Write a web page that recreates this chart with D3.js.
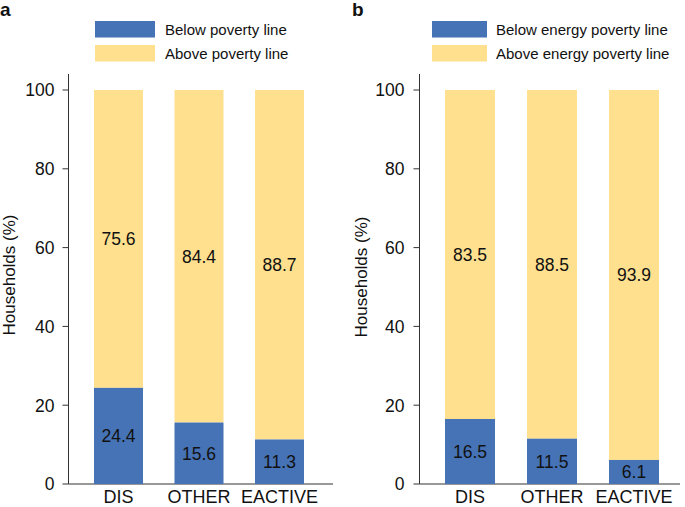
<!DOCTYPE html>
<html>
<head>
<meta charset="utf-8">
<script src="https://cdn.jsdelivr.net/npm/d3@7"></script>
<style>
  html, body { margin: 0; padding: 0; background: #fff; }
  svg { display: block; font-family: "Liberation Sans", Arial, Helvetica, sans-serif; }
</style>
</head>
<body>
<svg id="chart" width="685" height="507"></svg>
<script>
// ---- data ----
const categories = ["DIS", "OTHER", "EACTIVE"];
const belowPoverty = [24.4, 15.6, 11.3];
const abovePoverty = [75.6, 84.4, 88.7];
const belowEnergy = [16.5, 11.5, 6.1];
const aboveEnergy = [83.5, 88.5, 93.9];
const yTicks = [0, 20, 40, 60, 80, 100];
const legendA = ["Below poverty line", "Above poverty line"];
const legendB = ["Below energy poverty line", "Above energy poverty line"];
const panelLetters = ["a", "b"];
const yAxisTitle = "Households (%)";

const BLUE = "#4673b6";
const YELLOW = "#fee08f";
const AXIS = "#333";

const svg = d3.select("#chart");

function panel(opts) {
  const g = svg.append("g");
  const y = d3.scaleLinear().domain([0, 100]).range([484, 90]);
  const x = d3.scaleBand().domain(categories).range([opts.x0, opts.x1]).padding(0);
  const bw = opts.barW;

  // axes lines
  g.append("line").attr("x1", opts.axisX).attr("x2", opts.axisX)
    .attr("y1", 74).attr("y2", y(0)).attr("stroke", AXIS).attr("stroke-width", 1);
  g.append("line").attr("x1", opts.axisX).attr("x2", opts.axisEnd)
    .attr("y1", y(0)).attr("y2", y(0)).attr("stroke", AXIS).attr("stroke-width", 1);

  // y ticks
  const yt = g.append("g");
  yTicks.forEach(t => {
    yt.append("line").attr("x1", opts.axisX - 6).attr("x2", opts.axisX)
      .attr("y1", y(t)).attr("y2", y(t)).attr("stroke", AXIS);
    yt.append("text").attr("x", opts.axisX - opts.labGap).attr("y", y(t))
      .attr("dy", "0.36em").attr("text-anchor", "end")
      .attr("font-size", 17.5).attr("fill", "#111").text(t);
  });

  // bars
  categories.forEach((c, i) => {
    const cx = x(c) + x.bandwidth() / 2;
    const lo = opts.below[i], hi = opts.above[i];
    g.append("rect").attr("x", cx - bw / 2).attr("width", bw)
      .attr("y", y(lo + hi)).attr("height", y(lo) - y(lo + hi)).attr("fill", YELLOW);
    g.append("rect").attr("x", cx - bw / 2).attr("width", bw)
      .attr("y", y(lo)).attr("height", y(0) - y(lo)).attr("fill", BLUE);
    g.append("text").attr("x", cx).attr("y", y(lo / 2)).attr("dy", "0.36em")
      .attr("text-anchor", "middle").attr("font-size", 17.5).attr("fill", "#111")
      .text(lo.toFixed(1));
    g.append("text").attr("x", cx).attr("y", y(lo + hi / 2)).attr("dy", "0.36em")
      .attr("text-anchor", "middle").attr("font-size", 17.5).attr("fill", "#111")
      .text(hi.toFixed(1));
    g.append("text").attr("x", cx).attr("y", 503)
      .attr("text-anchor", "middle").attr("font-size", 18).attr("fill", "#111")
      .text(c);
  });

  // y title
  g.append("text")
    .attr("transform", `translate(${opts.titleX},${opts.titleY}) rotate(-90)`)
    .attr("text-anchor", "middle").attr("font-size", 17).attr("fill", "#111")
    .text(yAxisTitle);

  // legend
  const colors = [BLUE, YELLOW];
  opts.legend.forEach((t, i) => {
    g.append("rect").attr("x", opts.legX).attr("y", 21 + i * 24)
      .attr("width", opts.legW).attr("height", 16.5).attr("fill", colors[i]);
    g.append("text").attr("x", opts.legTextX).attr("y", 34.5 + i * 24)
      .attr("font-size", 15).attr("fill", "#111").text(t);
  });

  // panel letter
  g.append("text").attr("x", opts.letterX).attr("y", 16)
    .attr("font-size", 19).attr("font-weight", "bold").attr("fill", "#111")
    .text(opts.letter);
}

panel({
  x0: 78.25, x1: 319.75, barW: 49, axisX: 68.5, axisEnd: 333, labGap: 14,
  below: belowPoverty, above: abovePoverty, legend: legendA,
  legX: 95, legW: 60, legTextX: 165, titleX: 15, titleY: 275,
  letter: panelLetters[0], letterX: 0
});
panel({
  x0: 429, x1: 675, barW: 50, axisX: 419.5, axisEnd: 680, labGap: 15,
  below: belowEnergy, above: aboveEnergy, legend: legendB,
  legX: 432, legW: 55, legTextX: 496, titleX: 367, titleY: 277,
  letter: panelLetters[1], letterX: 352
});
</script>
</body>
</html>
